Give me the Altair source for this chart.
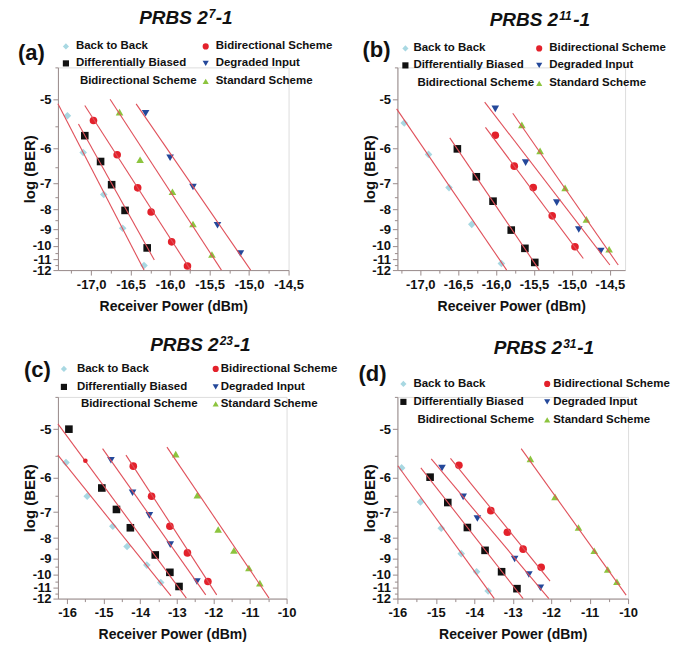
import altair as alt
import pandas as pd

SERIES = ["Back to Back", "Differentially Biased Bidirectional Scheme",
          "Bidirectional Scheme", "Degraded Input", "Standard Scheme"]
SHAPES = ["diamond", "square", "circle", "triangle-down", "triangle-up"]
COLORS = ["#a8d8e2", "#111111", "#e3212b", "#24489a", "#8cc43e"]
LINE_COLOR = "#e0505a"

# ---------------- panel (a) PRBS 2^7-1 ----------------
a_b2b_x = [-17.30, -17.10, -16.84, -16.60, -16.33]
a_b2b_y = [-5.29, -6.10, -7.40, -8.93, -11.56]
a_dbb_x = [-17.08, -16.88, -16.74, -16.57, -16.29]
a_dbb_y = [-5.70, -6.34, -7.05, -8.05, -10.15]
a_bid_x = [-16.97, -16.67, -16.41, -16.24, -15.98, -15.78]
a_bid_y = [-5.38, -6.16, -7.16, -8.12, -9.74, -11.61]
a_deg_x = [-16.31, -16.00, -15.71, -15.40, -15.11]
a_deg_y = [-5.24, -6.24, -7.13, -8.77, -10.56]
a_std_x = [-16.64, -16.38, -15.97, -15.71, -15.47]
a_std_y = [-5.22, -6.29, -7.30, -8.70, -10.64]
# fitted lines (start / end), series order
a_fit_x0 = [-17.42, -17.16, -17.08, -16.43, -16.76]
a_fit_y0 = [-5.07, -5.45, -5.10, -5.07, -4.99]
a_fit_x1 = [-16.33, -16.20, -15.74, -14.98, -15.35]
a_fit_y1 = [-12.0, -11.08, -12.0, -12.0, -12.0]

# ---------------- panel (b) PRBS 2^11-1 ----------------
b_b2b_x = [-17.21, -16.89, -16.62, -16.32, -15.93]
b_b2b_y = [-5.43, -6.15, -7.15, -8.72, -11.38]
b_dbb_x = [-16.51, -16.26, -16.04, -15.80, -15.62, -15.49]
b_dbb_y = [-6.01, -6.79, -7.66, -9.03, -10.18, -11.29]
b_bid_x = [-16.01, -15.76, -15.51, -15.26, -14.96]
b_bid_y = [-5.69, -6.47, -7.15, -8.30, -10.07]
b_deg_x = [-16.01, -15.61, -15.20, -14.91, -14.62]
b_deg_y = [-5.16, -6.37, -7.72, -9.00, -10.37]
b_std_x = [-15.66, -15.42, -15.09, -14.81, -14.51]
b_std_y = [-5.47, -6.06, -7.16, -8.47, -10.24]
b_fit_x0 = [-17.31, -16.61, -16.14, -16.15, -15.78]
b_fit_y0 = [-5.16, -5.75, -5.52, -5.04, -5.24]
b_fit_x1 = [-15.86, -15.43, -14.85, -14.50, -14.39]
b_fit_y1 = [-12.0, -12.0, -10.96, -11.52, -11.52]

# ---------------- panel (c) PRBS 2^23-1 ----------------
c_b2b_x = [-16.03, -15.45, -14.75, -14.36, -13.82, -13.44]
c_b2b_y = [-5.65, -6.50, -7.51, -8.39, -9.40, -10.59]
c_dbb_x = [-15.95, -15.05, -14.65, -14.27, -13.59, -13.19, -12.94]
c_dbb_y = [-5.00, -6.27, -6.91, -7.57, -8.82, -9.86, -10.91]
c_bid_x = [-14.19, -13.69, -13.19, -12.71, -12.15]
c_bid_y = [-5.73, -6.50, -7.51, -8.71, -10.51]
c_deg_x = [-14.80, -14.21, -13.75, -13.18, -12.45]
c_deg_y = [-5.60, -6.40, -7.11, -8.30, -10.51]
c_std_x = [-13.03, -12.44, -11.87, -11.44, -11.03, -10.73]
c_std_y = [-5.47, -6.47, -7.64, -8.59, -9.58, -10.64]
c_extra_x = [-15.50]   # small red dot on the biased-scheme line
c_extra_y = [-5.61]
c_fit_x0 = [-16.25, -16.25, -14.39, -15.03, -13.27]
c_fit_y0 = [-5.49, -4.91, -5.49, -5.36, -5.33]
c_fit_x1 = [-13.16, -12.74, -11.91, -12.21, -10.48]
c_fit_y1 = [-11.74, -11.95, -11.64, -11.64, -11.95]

# ---------------- panel (d) PRBS 2^31-1 ----------------
d_b2b_x = [-15.89, -15.40, -14.86, -14.34, -13.94, -13.64]
d_b2b_y = [-5.77, -6.67, -7.59, -8.75, -9.82, -11.29]
d_dbb_x = [-15.15, -14.69, -14.18, -13.72, -13.29, -12.89]
d_dbb_y = [-5.99, -6.69, -7.56, -8.58, -9.82, -11.09]
d_bid_x = [-14.40, -13.57, -13.14, -12.73, -12.26]
d_bid_y = [-5.71, -6.95, -7.75, -8.52, -9.53]
d_deg_x = [-14.84, -14.29, -13.92, -12.95, -12.58, -12.28]
d_deg_y = [-5.77, -6.52, -7.22, -9.04, -10.01, -11.01]
d_std_x = [-12.54, -11.90, -11.29, -10.88, -10.53, -10.29]
d_std_y = [-5.57, -6.52, -7.56, -8.60, -9.67, -10.54]
d_fit_x0 = [-15.99, -15.39, -14.62, -15.12, -12.78]
d_fit_y0 = [-5.72, -5.77, -5.56, -5.57, -5.36]
d_fit_x1 = [-13.48, -12.73, -12.03, -12.06, -10.05]
d_fit_y1 = [-12.0, -12.0, -10.48, -12.0, -11.66]

y_ticks = [-5, -6, -7, -8, -9, -10, -11, -12]
y_minor = [-4.5, -5.5, -6.5, -7.5, -8.5, -9.5, -10.5, -11.5]
x_ticks_ab = [-17.0, -16.5, -16.0, -15.5, -15.0, -14.5]
x_minor_ab = [-17.25, -16.75, -16.25, -15.75, -15.25, -14.75]
x_ticks_cd = [-16, -15, -14, -13, -12, -11, -10]
x_minor_cd = [-15.5, -14.5, -13.5, -12.5, -11.5, -10.5]

FONT = "Liberation Sans"
AXC = "#9a8c8c"
ONE = pd.DataFrame({"k": [0]})
LEG_FS = 11.5


def build_points(series_lists):
    rows = []
    for name, (xs, ys) in zip(SERIES, series_lists):
        for xv, yv in zip(xs, ys):
            rows.append({"p": xv, "b": yv, "s": name})
    return pd.DataFrame(rows)


def build_lines(x0, y0, x1, y1):
    return pd.DataFrame({"x0": x0, "y0": y0, "x1": x1, "y1": y1, "s": SERIES})


def txt(text, x, y, size, align="left", style="normal"):
    return alt.Chart(ONE).mark_text(
        text=text, font=FONT, fontSize=size, fontWeight="bold", fontStyle=style,
        color="#111", align=align, baseline="middle").encode(x=alt.value(x), y=alt.value(y))


def panel(pts, lines, xdom, xt, xm, decimals, w, h, base, sup, label, lay, extra=None):
    xs = alt.Scale(domain=xdom, nice=False, zero=False)
    ys = alt.Scale(type="pow", exponent=-1, domain=[-12, -4.5], nice=False, zero=False)
    if decimals:
        lexpr = "'-' + replace(format(abs(datum.value), '.1f'), '.', ',')"
    else:
        lexpr = "'-' + format(abs(datum.value), 'd')"
    xaxis = alt.Axis(values=xt, labelExpr=lexpr, title="Receiver Power (dBm)", orient="bottom",
                     grid=False, domainColor=AXC, tickColor=AXC, tickSize=5, labelPadding=3,
                     labelOverlap=False, labelFlush=False,
                     labelFont=FONT, labelFontWeight="bold", labelFontSize=13, labelColor="#111",
                     titleFont=FONT, titleFontWeight="bold", titleFontSize=14, titleColor="#111",
                     titleY=36, titleBaseline="middle")
    yaxis = alt.Axis(values=y_ticks, labelExpr="'-' + format(abs(datum.value), 'd')",
                     title="log (BER)", orient="left",
                     grid=False, domainColor=AXC, tickColor=AXC, tickSize=5, labelPadding=2,
                     labelFont=FONT, labelFontWeight="bold", labelFontSize=13, labelColor="#111",
                     labelOverlap=False, labelFlush=False,
                     titleFont=FONT, titleFontWeight="bold", titleFontSize=15, titleColor="#111",
                     titleX=-28, titleY=h / 2, titleAngle=270, titleBaseline="middle",
                     titleAlign="center")
    xminor = alt.Axis(values=xm, labels=False, domain=False, ticks=True, tickSize=3,
                      tickColor=AXC, grid=False, title=None, orient="bottom")
    yminor = alt.Axis(values=y_minor, labels=False, domain=False, ticks=True, tickSize=3,
                      tickColor=AXC, grid=False, title=None, orient="left")

    point_layer = alt.Chart(pts).mark_point(filled=True, opacity=1, size=58).encode(
        x=alt.X("p:Q", scale=xs, axis=xaxis),
        y=alt.Y("b:Q", scale=ys, axis=yaxis),
        shape=alt.Shape("s:N", scale=alt.Scale(domain=SERIES, range=SHAPES), legend=None),
        color=alt.Color("s:N", scale=alt.Scale(domain=SERIES, range=COLORS), legend=None),
    )
    line_layer = alt.Chart(lines).mark_rule(color=LINE_COLOR, strokeWidth=1.1).encode(
        x=alt.X("x0:Q", scale=xs, axis=xminor),
        y=alt.Y("y0:Q", scale=ys, axis=yminor),
        x2="x1:Q",
        y2="y1:Q",
    )
    layers = [point_layer, line_layer]
    if extra is not None:
        layers.append(alt.Chart(extra).mark_point(filled=True, opacity=1, size=22,
                                                  color=COLORS[2], shape="circle").encode(
            x=alt.X("p:Q", scale=xs, axis=None), y=alt.Y("b:Q", scale=ys, axis=None)))

    # title with superscript, panel label
    tx, ty = lay["title"]
    lx, ly = lay["label"]
    sup_w = 7 * len(sup)
    layers.append(txt(base, tx, ty, 19, align="right", style="italic"))
    layers.append(txt(sup, tx + 1, ty - 4, 12, style="italic"))
    layers.append(txt("-1", tx + 1 + sup_w, ty, 19, style="italic"))
    layers.append(txt(label, lx, ly, 22))

    # legend
    r1, r2, r3 = lay["rows"]
    cl_m, cl_t, cr_m, cr_t = lay["cols"]
    leg_items = [
        (0, cl_m, cl_t, r1, "Back to Back"),
        (1, cl_m, cl_t, r2, "Differentially Biased"),
        (2, cr_m, cr_t, r1, "Bidirectional Scheme"),
        (3, cr_m, cr_t, r2, "Degraded Input"),
        (4, cr_m, cr_t, r3, "Standard Scheme"),
    ]
    for idx, mx, txx, yy, t in leg_items:
        layers.append(alt.Chart(ONE).mark_point(
            filled=True, opacity=1, size=38, shape=SHAPES[idx], color=COLORS[idx]).encode(
            x=alt.value(mx), y=alt.value(yy)))
        layers.append(txt(t, txx, yy, LEG_FS))
    layers.append(txt("Bidirectional Scheme", cl_t + 4, r3, LEG_FS))

    return alt.layer(*layers).resolve_axis(x="independent", y="independent").properties(
        width=w, height=h)


pa = panel(build_points([(a_b2b_x, a_b2b_y), (a_dbb_x, a_dbb_y), (a_bid_x, a_bid_y),
                         (a_deg_x, a_deg_y), (a_std_x, a_std_y)]),
           build_lines(a_fit_x0, a_fit_y0, a_fit_x1, a_fit_y1),
           [-17.42, -14.5], x_ticks_ab, x_minor_ab, True, 231, 203,
           "PRBS 2", "7", "(a)",
           {"title": [150, -49], "label": [-40, -14], "rows": [-21, -4, 14],
            "cols": [8, 18, 148, 158]})
pb = panel(build_points([(b_b2b_x, b_b2b_y), (b_dbb_x, b_dbb_y), (b_bid_x, b_bid_y),
                         (b_deg_x, b_deg_y), (b_std_x, b_std_y)]),
           build_lines(b_fit_x0, b_fit_y0, b_fit_x1, b_fit_y1),
           [-17.3, -14.3], x_ticks_ab, x_minor_ab, True, 228, 203,
           "PRBS 2", "11", "(b)",
           {"title": [161, -47], "label": [-35, -17], "rows": [-19, -2, 16],
            "cols": [8, 16, 142, 152]})
pc = panel(build_points([(c_b2b_x, c_b2b_y), (c_dbb_x, c_dbb_y), (c_bid_x, c_bid_y),
                         (c_deg_x, c_deg_y), (c_std_x, c_std_y)]),
           build_lines(c_fit_x0, c_fit_y0, c_fit_x1, c_fit_y1),
           [-16.25, -10], x_ticks_cd, x_minor_cd, False, 229, 202,
           "PRBS 2", "23", "(c)",
           {"title": [161, -52], "label": [-34, -27], "rows": [-28, -10, 7],
            "cols": [6, 19, 158, 163]},
           extra=pd.DataFrame({"p": c_extra_x, "b": c_extra_y}))
pd_ = panel(build_points([(d_b2b_x, d_b2b_y), (d_dbb_x, d_dbb_y), (d_bid_x, d_bid_y),
                          (d_deg_x, d_deg_y), (d_std_x, d_std_y)]),
            build_lines(d_fit_x0, d_fit_y0, d_fit_x1, d_fit_y1),
            [-16, -10], x_ticks_cd, x_minor_cd, False, 231, 202,
            "PRBS 2", "31", "(d)",
            {"title": [165, -49], "label": [-39, -23], "rows": [-13, 5, 23],
             "cols": [6, 16, 150, 156]})

chart = alt.concat(pa, pb, pc, pd_, columns=2, spacing={"row": 127, "column": 109},
                   bounds="flush").properties(
    padding={"left": 9, "top": -1, "right": 0, "bottom": 0}
).configure_view(stroke=None).configure(background="white")

chart.save("out.html", embed_options={"renderer": "svg", "actions": False})
